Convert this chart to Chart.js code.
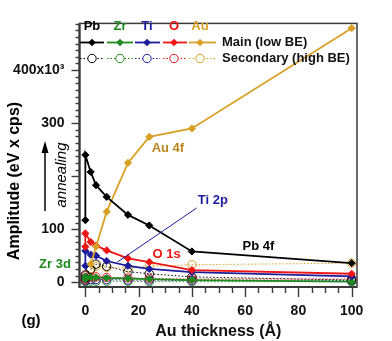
<!DOCTYPE html>
<html>
<head>
<meta charset="utf-8">
<script src="https://cdn.jsdelivr.net/npm/chart.js@4"></script>
<style>
  html, body { margin: 0; padding: 0; background: #fff; }
  #wrap { width: 392px; height: 341px; position: relative; }
</style>
</head>
<body>
<div id="wrap"><canvas id="ampChart"></canvas></div>
<script>
// Au thickness (Å); the two 0 entries are before / after annealing
const thickness = [0, 0, 2, 4, 8, 16, 24, 40, 100];

// Main component (low BE), amplitudes in units of 10^3 eV x cps
const pbMain = [117, 240, 208, 183, 161, 127, 107, 58, 36];
const zrMain = [6, 10, 9, 9, 8, 7, 6, 4, 1];
const tiMain = [31, 59, 52, 50, 40, 31, 25, 19, 11];
const oMain  = [67, 92, 76, 69, 60, 45, 38, 23, 16];
const auMain = [null, null, 34, 67, 133, 225, 274, 290, 479];

// Secondary component (high BE)
const pbSec = [8, 14, 24, 34, 30, 20, 16, 10, 4];
const zrSec = [1, 2, 2, 2, 2, 2, 1, 1, 1];
const tiSec = [3, 6, 5, 5, 5, 4, 4, 3, 3];
const oSec  = [5, 12, 10, 10, 9, 8, 7, 6, 6];
const auSec = [null, null, 26, 30, 28, 27, 30, 33, 36];

const xTicks = [0, 20, 40, 60, 80, 100];
const yTicks = [0, 100, 200, 300, 400];

const elements = ['Pb', 'Zr', 'Ti', 'O', 'Au'];
const colors = {
    Pb: '#000000',
    Zr: '#1f8a1f',
    Ti: '#1c1c9c',
    O: '#f01414',
    Au: '#d9a026'
};

const FONT = "'Liberation Sans', Arial, sans-serif";

function toPoints(values) {
    return thickness
        .map((x, i) => ({ x: x, y: values[i] }))
        .filter(p => p.y !== null);
}

function mainSet(name, values) {
    return {
        label: name + ' main',
        data: toPoints(values),
        borderColor: colors[name],
        backgroundColor: colors[name],
        borderWidth: 1.8,
        pointStyle: 'rectRot',
        pointRadius: 3.6,
        pointBorderWidth: 1,
        showLine: true,
        tension: 0
    };
}

function secSet(name, values) {
    return {
        label: name + ' secondary',
        data: toPoints(values),
        borderColor: colors[name],
        backgroundColor: 'rgba(255,255,255,0)',
        borderWidth: 1,
        borderDash: [1.5, 2],
        pointStyle: 'circle',
        pointRadius: 4.2,
        pointBorderWidth: 1,
        showLine: true,
        tension: 0
    };
}

// Frame, tick marks, legend block and text labels
const decor = {
    id: 'decor',
    afterDraw(chart) {
        const ctx = chart.ctx;
        const xs = chart.scales.x;
        const ys = chart.scales.y;
        const a = chart.chartArea;
        ctx.save();

        // plot frame
        ctx.strokeStyle = '#3a3a3a';
        ctx.lineWidth = 1.5;
        ctx.strokeRect(a.left, a.top, a.right - a.left, a.bottom - a.top);
        ctx.lineWidth = 2.2;
        ctx.beginPath();
        ctx.moveTo(a.left, a.top);
        ctx.lineTo(a.left, a.bottom);
        ctx.lineTo(a.right, a.bottom);
        ctx.stroke();

        // y tick marks (outside, left)
        ctx.lineWidth = 1.4;
        for (let v = 0; v <= ys.max; v += 12.5) {
            const py = Math.round(ys.getPixelForValue(v)) + 0.5;
            const len = (v % 100 === 0) ? 8 : 4;
            ctx.beginPath();
            ctx.moveTo(a.left - len, py);
            ctx.lineTo(a.left, py);
            ctx.stroke();
        }
        // x tick marks (outside, below)
        for (let v = 0; v <= 100; v += 5) {
            const px = Math.round(xs.getPixelForValue(v)) + 0.5;
            const len = (v % 20 === 0) ? 9 : 5;
            ctx.beginPath();
            ctx.moveTo(px, a.bottom + 1);
            ctx.lineTo(px, a.bottom + 1 + len);
            ctx.stroke();
        }

        // legend: element names, main row, secondary row
        const legX = [92, 120, 147, 174, 200];
        ctx.font = 'bold 13px ' + FONT;
        ctx.textAlign = 'center';
        ctx.textBaseline = 'middle';
        elements.forEach((el, i) => {
            ctx.fillStyle = colors[el];
            ctx.fillText(el, legX[i], 26);
        });
        const segs = [[80, 104], [107, 133], [135, 160], [163, 187], [189, 216]];
        elements.forEach((el, i) => {
            const c = colors[el];
            // main
            ctx.strokeStyle = c;
            ctx.setLineDash([]);
            ctx.lineWidth = 1.8;
            ctx.beginPath();
            ctx.moveTo(segs[i][0], 42.5);
            ctx.lineTo(segs[i][1], 42.5);
            ctx.stroke();
            ctx.fillStyle = c;
            ctx.beginPath();
            ctx.moveTo(legX[i], 42.5 - 3.8);
            ctx.lineTo(legX[i] + 3.8, 42.5);
            ctx.lineTo(legX[i], 42.5 + 3.8);
            ctx.lineTo(legX[i] - 3.8, 42.5);
            ctx.closePath();
            ctx.fill();
            // secondary
            ctx.lineWidth = 1;
            ctx.setLineDash([1.5, 2]);
            ctx.beginPath();
            ctx.moveTo(segs[i][0], 58.5);
            ctx.lineTo(segs[i][1], 58.5);
            ctx.stroke();
            ctx.setLineDash([]);
            ctx.fillStyle = '#fff';
            ctx.beginPath();
            ctx.arc(legX[i], 58.5, 4.2, 0, Math.PI * 2);
            ctx.fill();
            ctx.stroke();
        });
        ctx.fillStyle = '#111';
        ctx.textAlign = 'left';
        ctx.font = 'bold 13px ' + FONT;
        ctx.fillText('Main (low BE)', 222, 42);
        ctx.fillText('Secondary (high BE)', 222, 58);

        // Ti 2p pointer line
        ctx.strokeStyle = colors.Ti;
        ctx.lineWidth = 1;
        ctx.beginPath();
        ctx.moveTo(xs.getPixelForValue(12), ys.getPixelForValue(38));
        ctx.lineTo(xs.getPixelForValue(41.8), ys.getPixelForValue(140));
        ctx.stroke();

        // peak labels
        ctx.font = 'bold 13px ' + FONT;
        ctx.textAlign = 'center';
        ctx.fillStyle = '#b8861c';
        ctx.fillText('Au 4f', xs.getPixelForValue(31), ys.getPixelForValue(253));
        ctx.fillStyle = colors.Ti;
        ctx.textAlign = 'left';
        ctx.fillText('Ti 2p', xs.getPixelForValue(42.2), ys.getPixelForValue(154));
        ctx.textAlign = 'center';
        ctx.fillStyle = colors.O;
        ctx.fillText('O 1s', xs.getPixelForValue(30.5), ys.getPixelForValue(52));
        ctx.fillStyle = '#000';
        ctx.fillText('Pb 4f', xs.getPixelForValue(65), ys.getPixelForValue(67));
        ctx.fillStyle = colors.Zr;
        ctx.fillText('Zr 3d', 55, ys.getPixelForValue(34));

        // annealing arrow
        ctx.strokeStyle = '#000';
        ctx.fillStyle = '#000';
        ctx.lineWidth = 1.5;
        ctx.beginPath();
        ctx.moveTo(45, 211);
        ctx.lineTo(45, 152);
        ctx.stroke();
        ctx.beginPath();
        ctx.moveTo(45, 141);
        ctx.lineTo(41.5, 153);
        ctx.lineTo(48.5, 153);
        ctx.closePath();
        ctx.fill();

        // annealing text and y axis title
        ctx.save();
        ctx.translate(62, 175);
        ctx.rotate(-Math.PI / 2);
        ctx.font = 'italic 15px ' + FONT;
        ctx.textAlign = 'center';
        ctx.fillText('annealing', 0, 0);
        ctx.restore();

        ctx.save();
        ctx.translate(15, 181);
        ctx.rotate(-Math.PI / 2);
        ctx.font = 'bold 16px ' + FONT;
        ctx.textAlign = 'center';
        ctx.fillText('Amplitude (eV x cps)', 0, 0);
        ctx.restore();

        // panel letter
        ctx.font = 'bold 15px ' + FONT;
        ctx.textAlign = 'center';
        ctx.fillText('(g)', 31, 321);

        ctx.restore();
    }
};

const ctx = document.getElementById('ampChart').getContext('2d');

new Chart(ctx, {
    type: 'scatter',
    data: {
        datasets: [
            mainSet('Pb', pbMain),
            mainSet('Au', auMain),
            mainSet('O', oMain),
            mainSet('Ti', tiMain),
            mainSet('Zr', zrMain),
            secSet('Pb', pbSec),
            secSet('Au', auSec),
            secSet('O', oSec),
            secSet('Ti', tiSec),
            secSet('Zr', zrSec)
        ]
    },
    options: {
        responsive: true,
        maintainAspectRatio: false,
        animation: false,
        layout: { padding: { top: 12, right: 35, left: 0, bottom: 0 } },
        plugins: {
            legend: { display: false },
            tooltip: { enabled: false }
        },
        scales: {
            x: {
                type: 'linear',
                min: -2.2,
                max: 102,
                afterBuildTicks: scale => {
                    scale.ticks = xTicks.map(v => ({ value: v }));
                },
                afterFit: scale => { scale.height = 54; },
                grid: { display: false, drawTicks: false },
                border: { display: false },
                ticks: {
                    padding: 16,
                    color: '#111',
                    font: { family: FONT, size: 14, weight: 'bold' },
                    maxRotation: 0
                },
                title: {
                    display: true,
                    text: 'Au thickness (Å)',
                    color: '#111',
                    font: { family: FONT, size: 16, weight: 'bold' },
                    padding: { top: 2, bottom: 0 }
                }
            },
            y: {
                type: 'linear',
                min: -9,
                max: 488,
                afterBuildTicks: scale => {
                    scale.ticks = yTicks.map(v => ({ value: v }));
                },
                afterFit: scale => { scale.width = 79.5; },
                grid: { display: false, drawTicks: false },
                border: { display: false },
                ticks: {
                    padding: 15,
                    color: '#111',
                    font: { family: FONT, size: 14, weight: 'bold' },
                    callback: value => {
                        if (value === 200) return '';
                        if (value === 400) return '400x10³';
                        return String(value);
                    }
                }
            }
        }
    },
    plugins: [decor]
});
</script>
</body>
</html>
